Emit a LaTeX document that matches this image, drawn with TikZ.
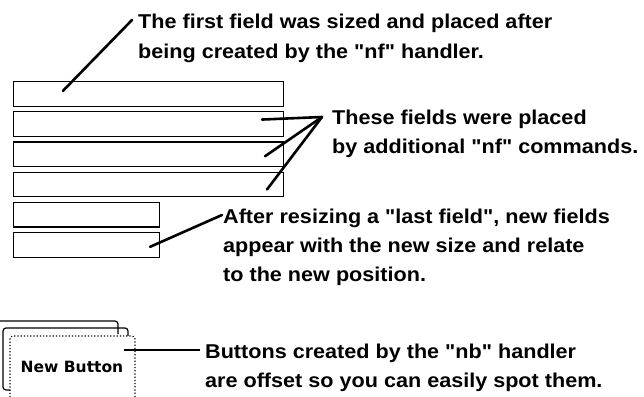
\documentclass[tikz,border=0pt]{standalone}
\usepackage{fontspec}
\setmainfont{Liberation Sans}
\newfontfamily\notefont[FakeStretch=1.08]{Liberation Sans Bold}
\newfontfamily\btnfont{DejaVu Sans Bold}
\usetikzlibrary{positioning}
\tikzset{
	field/.style = {draw, line width = 1.2pt, minimum width = 270pt, minimum height = 24.5pt, inner sep = 0pt, anchor = north west},
	small field/.style = {field, minimum width = 146pt},
	note/.style = {align = left, anchor = base west, inner sep = 0pt, font = \notefont\fontsize{20}{29}\selectfont},
	pointer/.style = {line width = 2.6pt, line cap = round},
	button edge/.style = {line width = 1.2pt, rounded corners = 3pt},
}
\begin{document}
\begin{tikzpicture}[x = 1pt, y = -1pt]
	\useasboundingbox (0,0) rectangle (644,396);
	\clip (0,0) rectangle (644,396);
	% the fields
	\node [field] (f1) at (13,81) {};
	\node [field, below = 4.5pt of f1.south west, anchor = north west] (f2) {};
	\node [field, below = 4.5pt of f2.south west, anchor = north west] (f3) {};
	\node [field, below = 4.5pt of f3.south west, anchor = north west] (f4) {};
	\node [small field, below = 4.5pt of f4.south west, anchor = north west] (f5) {};
	\node [small field, below = 4.5pt of f5.south west, anchor = north west] (f6) {};
	% the buttons
	\draw [button edge] (-10,321) -- (118,321) -- (118,334);
	\draw [button edge] (128,340) -- (128,328) -- (3,328) -- (3,390) -- (14,390);
	\draw [button edge, fill = white, dotted] (10,410) -- (10,336) -- (135,336) -- (135,410);
	\node [font = \btnfont\fontsize{15.5}{18}\selectfont, inner sep = 0pt] (nb) at (72,367) {New Button};
	% the notes (anchored at the baseline of their last line)
	\node [note] (t1) at (138,58) {The first field was sized and placed after\\being created by the "nf" handler.};
	\node [note] (t2) at (332,153) {These fields were placed\\by additional "nf" commands.};
	\node [note] (t3) at (223,281) {After resizing a "last field", new fields\\appear with the new size and relate\\to the new position.};
	\node [note] (t4) at (205,387) {Buttons created by the "nb" handler\\are offset so you can easily spot them.};
	% the pointers
	\coordinate (j2) at ([xshift = -10pt, yshift = 36pt]t2.base west);
	\draw [pointer] ([xshift = 50pt, yshift = 3pt]f1.west) -- ([xshift = -6pt, yshift = 38pt]t1.base west);
	\draw [pointer] ([xshift = 249pt, yshift = 4.5pt]f2.west) -- (j2);
	\draw [pointer] ([xshift = 252pt, yshift = -2pt]f3.west) -- (j2);
	\draw [pointer] ([xshift = 254pt, yshift = -5pt]f4.west) -- (j2);
	\draw [pointer] ([xshift = 137pt, yshift = -2pt]f6.west) -- ([xshift = -1pt, yshift = 66pt]t3.base west);
	\draw [line width = 1.8pt] ([xshift = 1pt, yshift = 17pt]nb.east) -- ([xshift = -5pt, yshift = 37pt]t4.base west);
\end{tikzpicture}
\end{document}
